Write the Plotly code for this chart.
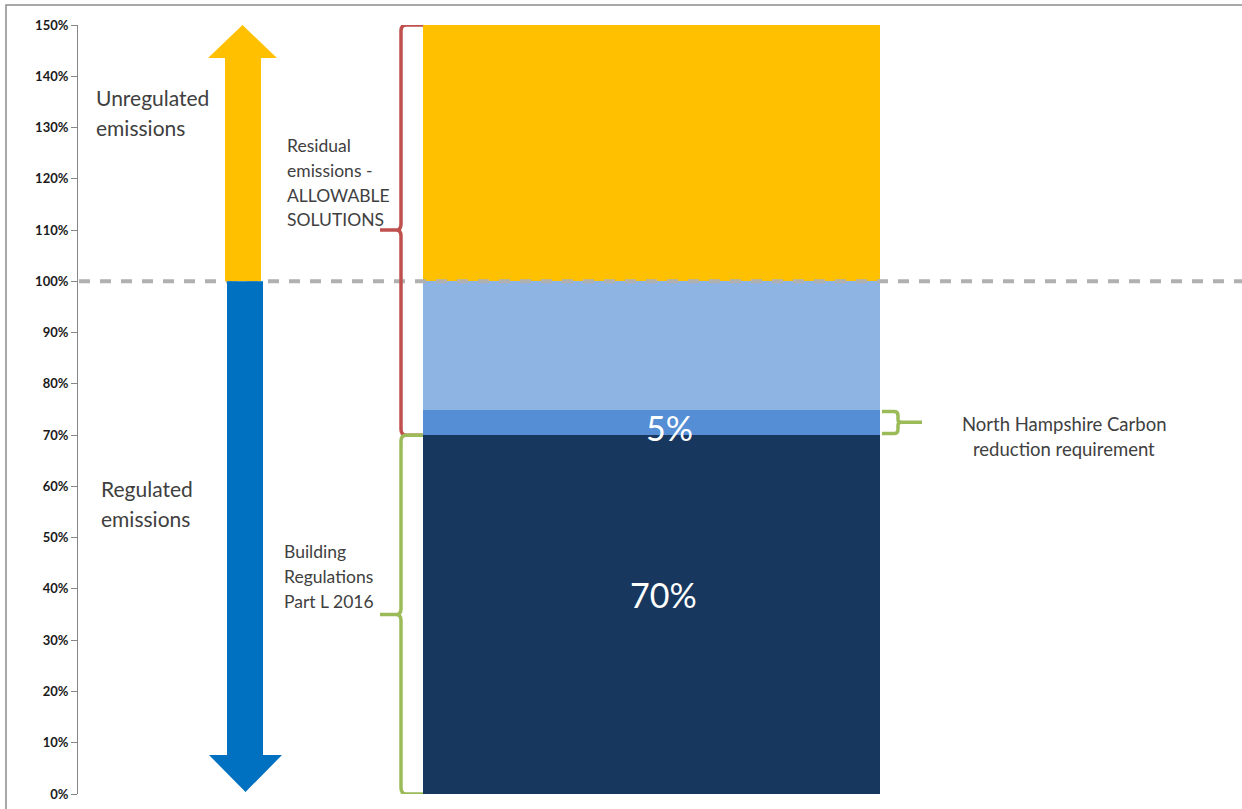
import plotly.graph_objects as go

# Emission components (% of regulated baseline), stacked bottom to top
segments = ["Building Regulations Part L 2016", "North Hampshire Carbon reduction",
            "Remaining regulated", "Unregulated"]
values = [70, 5, 25, 50]
colors = ["#17375e", "#558ed5", "#8eb4e3", "#ffc000"]
labelled = [True, True, False, False]
tick_vals = list(range(0, 151, 10))
tick_text = [f"{v}%" for v in tick_vals]

W, H = 1242, 809
L, R, T, B = 78, 0, 25, 15
plot_h = H - T - B
Y_MAX = 150

def yd(px):
    """pixel row -> data value on the y axis"""
    return (H - B - px) / plot_h * Y_MAX

fig = go.Figure()

BAR_X, BAR_W = 651.5, 457
for name, v, c in zip(segments, values, colors):
    fig.add_trace(go.Bar(
        x=[BAR_X], y=[v], width=[BAR_W], name=name, marker_color=c,
        marker_line_width=0, hoverinfo="skip", showlegend=False,
    ))

cum = [sum(values[:i + 1]) for i in range(len(values))]
base_top = cum[0]          # 70
req_top = cum[1]           # 75
reg_top = cum[2]           # 100
total_top = cum[3]         # 150

shapes = []

# 100% reference line (over the bar, under the arrows)
shapes.append(dict(type="line", xref="x", yref="y", x0=79, x1=1242, y0=reg_top, y1=reg_top,
                   line=dict(color="#b0b0b0", width=4, dash="11px,10px"), layer="above"))

# Up arrow for unregulated emissions
ax_l, ax_r, hd_l, hd_r = 225, 261, 208, 277
head_h = yd(24) - yd(57)
shapes.append(dict(
    type="path", xref="x", yref="y", fillcolor="#ffc000", line=dict(width=0), layer="above",
    path=(f"M {ax_l},{reg_top} L {ax_r},{reg_top} L {ax_r},{total_top - head_h} "
          f"L {hd_r},{total_top - head_h} L {(hd_l + hd_r) / 2},{total_top} "
          f"L {hd_l},{total_top - head_h} L {ax_l},{total_top - head_h} Z")))

# Down arrow for regulated emissions
bx_l, bx_r, bh_l, bh_r = 227, 263, 209, 282
tip = yd(792)
bhead = yd(755) - tip
shapes.append(dict(
    type="path", xref="x", yref="y", fillcolor="#0070c0", line=dict(width=0), layer="above",
    path=(f"M {bx_l},{reg_top} L {bx_r},{reg_top} L {bx_r},{tip + bhead} "
          f"L {bh_r},{tip + bhead} L {(bh_l + bh_r) / 2},{tip} "
          f"L {bh_l},{tip + bhead} L {bx_l},{tip + bhead} Z")))


def left_brace(y_top, y_bot, color, xv=401, x_end=423, x_mid=380):
    ym = (y_top + y_bot) / 2
    r = 1.2
    return dict(
        type="path", xref="x", yref="y", line=dict(color=color, width=3.5), layer="above",
        path=(f"M {x_end},{y_top} L {xv + 5},{y_top} Q {xv},{y_top} {xv},{y_top - r} "
              f"L {xv},{ym + r} Q {xv},{ym} {xv - 5},{ym} L {x_mid},{ym} "
              f"M {xv - 5},{ym} Q {xv},{ym} {xv},{ym - r} "
              f"L {xv},{y_bot + r} Q {xv},{y_bot} {xv + 5},{y_bot} L {x_end},{y_bot}"))


shapes.append(left_brace(total_top, base_top, "#c0504d"))
shapes.append(left_brace(base_top, 0, "#9bbb59"))

# Small right brace for the 5% requirement
ym = (base_top + req_top) / 2
shapes.append(dict(
    type="path", xref="x", yref="y", line=dict(color="#9bbb59", width=3.5), layer="above",
    path=(f"M 882,{req_top - 0.4} L 894,{req_top - 0.4} Q 898,{req_top - 0.4} 898,{req_top - 1.2} "
          f"L 898,{ym + 0.5} Q 898,{ym} 902,{ym} L 922,{ym} "
          f"M 902,{ym} Q 898,{ym} 898,{ym - 0.5} L 898,{base_top + 1.2} "
          f"Q 898,{base_top + 0.3} 894,{base_top + 0.3} L 882,{base_top + 0.3}")))

# Chart frame
plot_w = W - L - R
shapes.append(dict(type="rect", xref="paper", yref="paper",
                   x0=(6 - L) / plot_w, x1=(W + 10 - L) / plot_w,
                   y0=-(B + 20) / plot_h, y1=(H - B - 5) / plot_h,
                   line=dict(color="#8c8c8c", width=1.5), fillcolor="rgba(0,0,0,0)",
                   layer="below"))

annotations = []

# Value labels on the two lower segments
label_pos = {0: (663, 594), 1: (669, 427)}
for i, (v, show) in enumerate(zip(values, labelled)):
    if show:
        lx, ly = label_pos[i]
        annotations.append(dict(text=f"{v}%", x=lx, y=yd(ly), xref="x", yref="y",
                                xanchor="center", yanchor="middle", showarrow=False,
                                font=dict(family="Lato", size=34, color="white")))


def text_lines(lines, x, y_px_list, size, anchor="left", color="#404040"):
    for s, ypx in zip(lines, y_px_list):
        annotations.append(dict(text=s, x=x, y=yd(ypx), xref="x", yref="y",
                                xanchor=anchor, yanchor="middle", showarrow=False,
                                font=dict(family="Lato", size=size, color=color)))


text_lines(["Unregulated", "emissions"], 94, [97, 127], 21)
text_lines(["Regulated", "emissions"], 99, [488, 518], 21)
text_lines(["Residual", "emissions -", "ALLOWABLE", "SOLUTIONS"], 285, [145, 170, 195, 219], 17.5)
text_lines(["Building", "Regulations", "Part L 2016"], 282, [551, 576, 601], 17.5)
text_lines(["North Hampshire Carbon", "reduction requirement"], 1064, [424, 449], 18.5,
           anchor="center")

fig.update_layout(
    width=W, height=H, margin=dict(l=L, r=R, t=T, b=B),
    paper_bgcolor="white", plot_bgcolor="white",
    barmode="stack", bargap=0,
    shapes=shapes, annotations=annotations,
    xaxis=dict(range=[L, W - R], visible=False, fixedrange=True),
    yaxis=dict(range=[0, Y_MAX], tickvals=tick_vals, ticktext=tick_text,
               showgrid=False, zeroline=False, showline=True, linecolor="#868686",
               linewidth=1, ticks="outside", ticklen=6, tickcolor="#868686",
               tickfont=dict(family="Lato", size=13, color="#1a1a1a", weight="bold"),
               fixedrange=True),
)

fig.write_html("out.html")
